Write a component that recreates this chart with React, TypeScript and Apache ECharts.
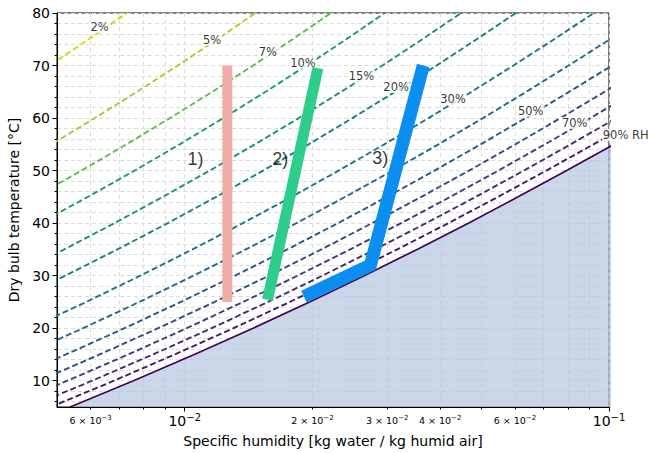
import React, { useEffect, useRef } from 'react';
import * as echarts from 'echarts';

const N = null;
// Dry bulb temperatures (°C) at which each RH curve is sampled
const TEMPS = [5, 10, 15, 20, 25, 30, 35, 40, 45, 50, 55, 60, 65, 70, 75, 80];
// Specific humidity (kg/kg) of each constant-RH curve at TEMPS
const Q_RH2_5 = [N, N, N, N, N, N, N, N, N, N, N, 0.00307, 0.00385, 0.0048, 0.00594, 0.0073];
const Q_RH5 = [N, N, N, N, N, N, N, N, N, 0.0038, 0.00485, 0.00614, 0.00772, 0.00963, 0.01193, 0.01468];
const Q_RH7_5 = [N, N, N, N, N, N, N, N, 0.00443, 0.00571, 0.00729, 0.00923, 0.01161, 0.01449, 0.01796, 0.02211];
const Q_RH10 = [N, N, N, N, N, N, 0.00346, 0.00455, 0.00591, 0.00762, 0.00973, 0.01233, 0.01551, 0.01937, 0.02403, 0.02962];
const Q_RH15 = [N, N, N, N, N, 0.00392, 0.0052, 0.00683, 0.00888, 0.01145, 0.01464, 0.01857, 0.02338, 0.02923, 0.03631, 0.04483];
const Q_RH20 = [N, N, N, N, 0.0039, 0.00523, 0.00694, 0.00912, 0.01186, 0.0153, 0.01958, 0.02485, 0.03132, 0.03921, 0.04877, 0.06032];
const Q_RH30 = [N, N, N, 0.00432, 0.00586, 0.00786, 0.01043, 0.01371, 0.01786, 0.02306, 0.02955, 0.03756, 0.04742, 0.05952, 0.07426, 0.09216];
const Q_RH40 = [N, N, 0.0042, 0.00576, 0.00782, 0.01049, 0.01394, 0.01833, 0.0239, 0.03089, 0.03963, 0.05046, 0.06385, 0.08032, 0.1005, N];
const Q_RH50 = [N, 0.00378, 0.00525, 0.00721, 0.00979, 0.01314, 0.01746, 0.02298, 0.02998, 0.0388, 0.04984, 0.06357, 0.08059, 0.1016, N, N];
const Q_RH60 = [N, 0.00454, 0.0063, 0.00866, 0.01176, 0.01579, 0.02099, 0.02765, 0.03611, 0.04678, 0.06017, 0.07687, 0.09766, 0.1235, N, N];
const Q_RH70 = [0.00376, 0.00529, 0.00736, 0.01011, 0.01373, 0.01845, 0.02455, 0.03235, 0.04228, 0.05484, 0.07063, 0.09039, 0.1151, N, N, N];
const Q_RH80 = [0.00429, 0.00605, 0.00842, 0.01157, 0.01571, 0.02112, 0.02811, 0.03708, 0.0485, 0.06297, 0.08122, 0.1041, N, N, N, N];
const Q_RH90 = [0.00483, 0.00681, 0.00947, 0.01303, 0.0177, 0.0238, 0.03169, 0.04183, 0.05476, 0.07118, 0.09194, 0.1181, N, N, N, N];
const Q_SAT = [0.00537, 0.00757, 0.01053, 0.01449, 0.01969, 0.02648, 0.03529, 0.04661, 0.06107, 0.07947, 0.1028, N, N, N, N, N];

const RH_CURVES = [Q_RH2_5, Q_RH5, Q_RH7_5, Q_RH10, Q_RH15, Q_RH20, Q_RH30, Q_RH40, Q_RH50, Q_RH60, Q_RH70, Q_RH80, Q_RH90];
const RH_NAMES = ['2.5%', '5%', '7.5%', '10%', '15%', '20%', '30%', '40%', '50%', '60%', '70%', '80%', '90%'];
const RH_COLORS = ['#d2d40f', '#a2cf35', '#5fbd4d', '#1c9e5d', '#0f957a', '#128383', '#18788b', '#1e6a8d', '#25598c', '#2f4c8a', '#3b3d84', '#432b78', '#47186a'];
const SAT_COLOR = '#440154';

// Inline curve labels
const RH_LABELS = ['2%', '5%', '7%', '10%', '15%', '20%', '30%', '50%', '70%', '90% RH'];
const RH_LABEL_Q = [0.0063, 0.0116, 0.0157, 0.019, 0.0261, 0.0315, 0.0429, 0.0654, 0.083, 0.1095];
const RH_LABEL_T = [77.4, 74.9, 72.6, 70.5, 68.0, 65.9, 63.6, 61.4, 59.05, 56.8];

// Process paths
const PROC1_Q = [0.0126, 0.0126];
const PROC1_T = [25, 70];
const PROC2_Q = [0.01567, 0.0206];
const PROC2_T = [25.4, 69.5];
const PROC3_Q = [0.0191, 0.0274, 0.0365];
const PROC3_T = [26, 32, 70];
const PROC_LABELS = ['1)', '2)', '3)'];
const PROC_LABEL_Q = [0.0106, 0.0168, 0.0289];
const PROC_LABEL_T = [52.2, 52.2, 52.4];

// Axis ticks
const X_MIN = 0.005;
const X_MAX = 0.1;
const Y_MIN = 5;
const Y_MAX = 80;
const X_MINOR_TICKS = [0.006, 0.007, 0.008, 0.009, 0.02, 0.03, 0.04, 0.05, 0.06, 0.07, 0.08, 0.09];
const X_MINOR_LABEL_VALUES = [0.006, 0.02, 0.03, 0.04, 0.06];
const X_MINOR_LABEL_MANT = ['6', '2', '3', '4', '6'];
const X_MINOR_LABEL_EXP = ['−3', '−2', '−2', '−2', '−2'];
const X_MAJOR_TICKS = [0.01, 0.1];
const X_MAJOR_LABEL_EXP = ['−2', '−1'];
const Y_MAJOR_TICKS = [10, 20, 30, 40, 50, 60, 70, 80];
const Y_MINOR_TICKS = [6, 8, 12, 14, 16, 18, 22, 24, 26, 28, 32, 34, 36, 38, 42, 44, 46, 48, 52, 54, 56, 58, 62, 64, 66, 68, 72, 74, 76, 78];

const FONT = 'DejaVu Sans';
const GRID_LINE = { show: true, lineStyle: { color: '#dcdcdc', width: 1, type: [4, 3] } };

function pairs(qs: (number | null)[], ts: number[]) {
  const out: number[][] = [];
  qs.forEach((q, i) => {
    if (q !== null) out.push([q, ts[i]]);
  });
  return out;
}

function findIdx(values: number[], v: number) {
  return values.findIndex((t) => Math.abs(Math.log10(t) - v) < 1e-9);
}

export default function App() {
  const ref = useRef<HTMLDivElement>(null);
  useEffect(() => {
    const chart = echarts.init(ref.current!, null, { renderer: 'svg' });
    const lmin = Math.log10(X_MIN);
    const lmax = Math.log10(X_MAX);

    const rhSeries = RH_CURVES.map((qs, i) => ({
      type: 'line',
      name: RH_NAMES[i],
      xAxisIndex: 0,
      yAxisIndex: 0,
      data: pairs(qs, TEMPS),
      symbol: 'none',
      silent: true,
      z: 3,
      lineStyle: { color: RH_COLORS[i], width: 1.9, type: [6, 3] },
    }));

    const option: any = {
      animation: false,
      backgroundColor: '#ffffff',
      textStyle: { fontFamily: FONT },
      grid: {
        left: 57,
        right: 39,
        top: 13,
        bottom: 46,
        show: true,
        borderColor: '#000',
        borderWidth: 1,
        backgroundColor: 'transparent',
        outerBoundsMode: 'none',
      },
      xAxis: [
        { type: 'log', logBase: 10, min: X_MIN, max: X_MAX, show: false, gridIndex: 0 },
        {
          type: 'value',
          min: lmin,
          max: lmax,
          position: 'bottom',
          gridIndex: 0,
          name: 'Specific humidity [kg water / kg humid air]',
          nameLocation: 'middle',
          nameGap: 27,
          nameTextStyle: { fontSize: 14, color: '#000', fontFamily: FONT },
          axisLine: { show: true, onZero: false, lineStyle: { color: '#000', width: 1 } },
          axisTick: { show: true, customValues: X_MINOR_TICKS.map(Math.log10), length: 2.5, lineStyle: { color: '#000' } },
          axisLabel: {
            show: true,
            customValues: X_MINOR_LABEL_VALUES.map(Math.log10),
            formatter: (v: number) => {
              const i = findIdx(X_MINOR_LABEL_VALUES, v);
              return i >= 0 ? `{m|${X_MINOR_LABEL_MANT[i]} × 10}{s|${X_MINOR_LABEL_EXP[i]}}` : '';
            },
            color: '#000',
            margin: 7,
            fontFamily: FONT,
            rich: {
              m: { fontSize: 9.5, color: '#000', fontFamily: FONT },
              s: { fontSize: 7, color: '#000', fontFamily: FONT, padding: [0, 0, 6, 0] },
            },
          },
          splitLine: GRID_LINE,
        },
        {
          type: 'value',
          min: lmin,
          max: lmax,
          position: 'bottom',
          gridIndex: 0,
          axisLine: { show: false, onZero: false },
          axisTick: { show: true, customValues: X_MAJOR_TICKS.map(Math.log10), length: 4.5, lineStyle: { color: '#000' } },
          axisLabel: {
            show: true,
            customValues: X_MAJOR_TICKS.map(Math.log10),
            formatter: (v: number) => {
              const i = findIdx(X_MAJOR_TICKS, v);
              return i >= 0 ? `{b|10}{s|${X_MAJOR_LABEL_EXP[i]}}` : '';
            },
            color: '#000',
            margin: 5,
            fontFamily: FONT,
            rich: {
              b: { fontSize: 14, color: '#000', fontFamily: FONT },
              s: { fontSize: 10, color: '#000', fontFamily: FONT, padding: [0, 0, 8, 0] },
            },
          },
          splitLine: GRID_LINE,
        },
      ],
      yAxis: [
        {
          type: 'value',
          min: Y_MIN,
          max: Y_MAX,
          position: 'left',
          gridIndex: 0,
          name: 'Dry bulb temperature [°C]',
          nameLocation: 'middle',
          nameGap: 35,
          nameTextStyle: { fontSize: 14, color: '#000', fontFamily: FONT },
          axisLine: { show: true, onZero: false, lineStyle: { color: '#000', width: 1 } },
          axisTick: { show: true, customValues: Y_MAJOR_TICKS, length: 4.5, lineStyle: { color: '#000' } },
          axisLabel: { show: true, customValues: Y_MAJOR_TICKS, fontSize: 14, color: '#000', margin: 7, fontFamily: FONT },
          splitLine: GRID_LINE,
        },
        {
          type: 'value',
          min: Y_MIN,
          max: Y_MAX,
          position: 'left',
          gridIndex: 0,
          axisLine: { show: false, onZero: false },
          axisTick: { show: true, customValues: Y_MINOR_TICKS, length: 2.5, lineStyle: { color: '#000' } },
          axisLabel: { show: false },
          splitLine: GRID_LINE,
        },
      ],
      series: [
        {
          type: 'line',
          name: 'saturation',
          xAxisIndex: 0,
          yAxisIndex: 0,
          data: pairs(Q_SAT, TEMPS),
          symbol: 'none',
          silent: true,
          z: 2,
          lineStyle: { color: SAT_COLOR, width: 1.7 },
          areaStyle: { color: 'rgba(176,196,222,0.68)', opacity: 1, origin: 'start' },
        },
        ...rhSeries,
        {
          type: 'scatter',
          name: 'rh labels',
          xAxisIndex: 0,
          yAxisIndex: 0,
          clip: false,
          silent: true,
          z: 4,
          symbolSize: 1,
          itemStyle: { color: 'rgba(0,0,0,0)' },
          data: RH_LABELS.map((n, i) => ({ name: n, value: [RH_LABEL_Q[i], RH_LABEL_T[i]] })),
          label: {
            show: true,
            position: 'inside',
            formatter: '{b}',
            fontSize: 11.5,
            color: '#000',
            textBorderWidth: 0,
            fontFamily: FONT,
            backgroundColor: '#ffffff',
            padding: [0, 1],
          },
        },
        {
          type: 'line',
          name: 'process 1',
          xAxisIndex: 0,
          yAxisIndex: 0,
          data: pairs(PROC1_Q, PROC1_T),
          symbol: 'none',
          silent: true,
          z: 5,
          lineStyle: { color: '#f0aca6', width: 10, cap: 'butt' },
        },
        {
          type: 'line',
          name: 'process 2',
          xAxisIndex: 0,
          yAxisIndex: 0,
          data: pairs(PROC2_Q, PROC2_T),
          symbol: 'none',
          silent: true,
          z: 5,
          lineStyle: { color: '#2ecd8c', width: 11, cap: 'butt' },
        },
        {
          type: 'line',
          name: 'process 3',
          xAxisIndex: 0,
          yAxisIndex: 0,
          data: pairs(PROC3_Q, PROC3_T),
          symbol: 'none',
          silent: true,
          z: 5,
          lineStyle: { color: '#0a8ef0', width: 13, cap: 'butt', join: 'miter' },
        },
        {
          type: 'scatter',
          name: 'process labels',
          xAxisIndex: 0,
          yAxisIndex: 0,
          clip: false,
          silent: true,
          z: 6,
          symbolSize: 1,
          itemStyle: { color: 'rgba(0,0,0,0)' },
          data: PROC_LABELS.map((n, i) => ({ name: n, value: [PROC_LABEL_Q[i], PROC_LABEL_T[i]] })),
          label: {
            show: true,
            position: 'inside',
            formatter: '{b}',
            fontSize: 18,
            color: '#000',
            textBorderWidth: 0,
            fontFamily: 'Liberation Sans',
          },
        },
      ],
    };
    chart.setOption(option);
    return () => chart.dispose();
  }, []);
  return <div ref={ref} style={{ position: 'fixed', left: 0, top: 0, width: 648, height: 453 }} />;
}
